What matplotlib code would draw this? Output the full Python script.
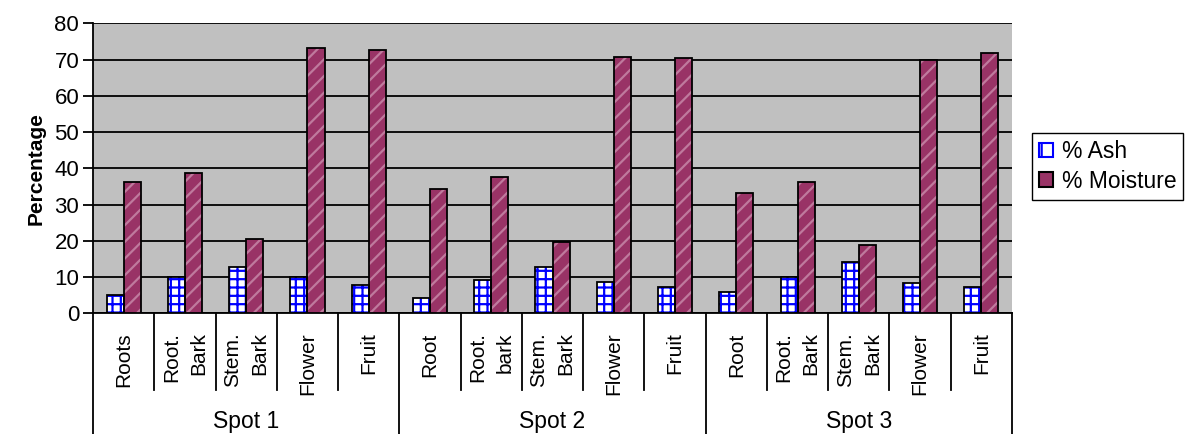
import matplotlib
matplotlib.use("Agg")
import matplotlib.pyplot as plt
import matplotlib.transforms as mtransforms
from matplotlib.patches import Patch
import numpy as np

plt.rcParams['font.family'] = ['Liberation Sans', 'DejaVu Sans']
plt.rcParams['hatch.linewidth'] = 1.6

# data
spots = ["Spot 1", "Spot 2", "Spot 3"]
parts = [
    ["Roots", "Root.\nBark", "Stem.\nBark", "Flower", "Fruit"],
    ["Root", "Root.\nbark", "Stem.\nBark", "Flower", "Fruit"],
    ["Root", "Root.\nBark", "Stem.\nBark", "Flower", "Fruit"],
]
ash = [5.0, 10.0, 12.9, 10.0, 7.8,
       4.3, 9.2, 12.9, 8.7, 7.2,
       6.0, 10.0, 14.2, 8.5, 7.2]
moisture = [36.3, 38.6, 20.4, 73.1, 72.6,
            34.4, 37.7, 19.7, 70.8, 70.3,
            33.1, 36.3, 18.8, 69.9, 71.7]
yticks = [0, 10, 20, 30, 40, 50, 60, 70, 80]

labels = [p for grp in parts for p in grp]
n = len(labels)
xc = np.arange(n)
bw = 0.278

fig = plt.figure(figsize=(11.9, 4.34), dpi=100)
ax = fig.add_axes([0.0782, 0.278, 0.7722, 0.6683])
ax.set_facecolor('#c0c0c0')

# ash bars: white with blue grid
ax.bar(xc - bw / 2, ash, bw, color='white', edgecolor='#0000ff',
       hatch='++', linewidth=0, zorder=3)
ax.bar(xc - bw / 2, ash, bw, color='none', edgecolor='black', linewidth=1.3, zorder=4)
# moisture bars: maroon with light diagonal pattern
ax.bar(xc + bw / 2, moisture, bw, color='#993366', edgecolor='#bf7a9d',
       hatch='//', linewidth=0, zorder=3)
ax.bar(xc + bw / 2, moisture, bw, color='none', edgecolor='black', linewidth=1.3, zorder=4)

ax.set_xlim(-0.5, n - 0.5)
ax.set_ylim(0, 80)
ax.set_yticks(yticks)
ax.yaxis.grid(True, color='black', linewidth=1.3, zorder=1)
ax.set_axisbelow(True)
ax.spines['right'].set_visible(False)
ax.spines['top'].set_visible(False)
ax.spines['left'].set_linewidth(1.3)
ax.spines['bottom'].set_linewidth(1.3)
ax.tick_params(axis='y', labelsize=16, length=7, width=1.3, pad=3)
ax.set_xticks([])

ax.set_ylabel("Percentage", fontsize=15, fontweight='bold', labelpad=6)

# category axis: separators and labels
trans = mtransforms.blended_transform_factory(ax.transData, ax.transAxes)
for k in range(n + 1):
    xb = k - 0.5
    ybot = -0.42 if k % 5 == 0 else -0.266
    ax.plot([xb, xb], [0, ybot], color='black', linewidth=1.3,
            transform=trans, clip_on=False)
for i, lab in enumerate(labels):
    ax.text(xc[i], -0.066, lab, transform=trans, rotation=90, ha='center', va='top',
            multialignment='right', fontsize=15, linespacing=1.55)
for g, s in enumerate(spots):
    ax.text(g * 5 + 2, -0.374, s, transform=trans, ha='center', va='center', fontsize=16.5)

h_ash = Patch(facecolor='white', edgecolor='#0000ff', hatch='+', linewidth=1.5, label='% Ash')
h_moist = Patch(facecolor='#993366', edgecolor='black', linewidth=1.5, label='% Moisture')
fig.legend(handles=[h_ash, h_moist], loc='upper left',
           bbox_to_anchor=(1032 / 1190, 1 - 133 / 434), fontsize=16.5,
           frameon=True, fancybox=False, edgecolor='black', framealpha=1,
           handlelength=0.6, handleheight=0.6, handletextpad=0.4,
           borderpad=0.3, labelspacing=0.3, borderaxespad=0)

fig.savefig("out.png", dpi=100)
